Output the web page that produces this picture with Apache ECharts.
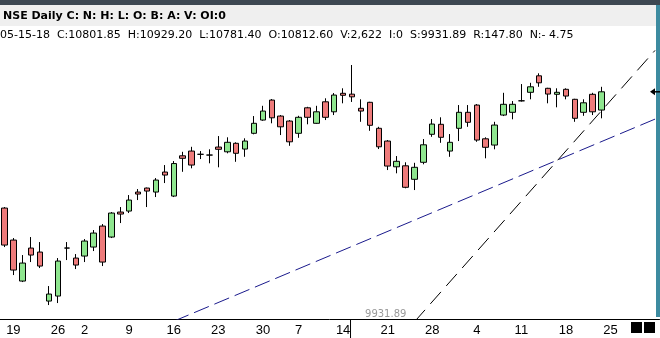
<!DOCTYPE html>
<html><head><meta charset="utf-8">
<script src="https://cdn.jsdelivr.net/npm/echarts@6/dist/echarts.min.js"></script>
<style>html,body{margin:0;padding:0;background:#fff}#c{width:660px;height:338px}</style>
</head><body><div id="c"></div>
<script>
// Trading days (NSE, 2018); trailing days are empty future slots
const dates = ['03-16',
 '03-19','03-20','03-21','03-22','03-23',
 '03-26','03-27','03-28',
 '04-02','04-03','04-04','04-05','04-06',
 '04-09','04-10','04-11','04-12','04-13',
 '04-16','04-17','04-18','04-19','04-20',
 '04-23','04-24','04-25','04-26','04-27',
 '04-30',
 '05-02','05-03','05-04',
 '05-07','05-08','05-09','05-10','05-11',
 '05-14','05-15','05-16','05-17','05-18',
 '05-21','05-22','05-23','05-24','05-25',
 '05-28','05-29','05-30','05-31','06-01',
 '06-04','06-05','06-06','06-07','06-08',
 '06-11','06-12','06-13','06-14','06-15',
 '06-18','06-19','06-20','06-21','06-22',
 '06-25','06-26','06-27','06-28','06-29',
 '07-02'];
const opens  = [10357,10229,10065,10197,10181,9985,10005,10197,10157,10165,10201,10285,10241,10341,10345,10421,10437,10421,10501,10405,10566,10585,10572,10569,10601,10582,10616,10593,10656,10709,10789,10725,10705,10656,10758,10696,10782,10742,10816,10812.6,10756,10780,10676,10625,10522,10526,10472,10540,10652,10692,10585,10676,10740,10769,10634,10609,10729,10740,10786,10820,10886,10836,10812,10832,10792,10740,10812,10749];
const closes = [10209,10109,10137,10169,10125,10013,10145,10197,10129,10225,10257,10141,10337,10333,10389,10413,10425,10469,10489,10535,10556,10529,10572,10569,10592,10620,10576,10625,10696,10745,10718,10682,10622,10720,10720,10742,10720,10809,10808,10801.85,10745,10688,10602,10525,10544,10440,10520,10610,10693,10640,10620,10740,10700,10629,10600,10689,10772,10772,10786,10842,10858,10813,10820,10805,10716,10778,10742,10822];
const lows   = [10201,10089,10061,10141,10117,9969,9977,10149,10113,10141,10185,10125,10237,10297,10337,10389,10361,10401,10457,10401,10502,10516,10553,10536,10520,10576,10542,10562,10652,10706,10696,10649,10606,10638,10692,10694,10709,10729,10776,10781.4,10702,10666,10593,10509,10496,10436,10429,10532,10642,10618,10562,10625,10682,10622,10556,10592,10725,10712,10783,10792,10842,10776,10760,10792,10702,10726,10729,10716];
const highs  = [10361,10237,10169,10241,10221,10045,10157,10221,10173,10233,10269,10293,10341,10361,10409,10433,10439,10477,10529,10545,10582,10602,10585,10592,10645,10640,10620,10636,10725,10766,10793,10729,10709,10726,10762,10766,10796,10817,10836,10929.2,10792,10782,10682,10629,10565,10540,10538,10633,10713,10720,10653,10769,10769,10773,10640,10702,10818,10785,10853,10858,10896,10838,10836,10836,10794,10792,10818,10842];
const tickDates = ['03-19','03-26','04-02','04-09','04-16','04-23','04-30','05-07','05-14','05-21','05-28','06-04','06-11','06-18','06-25'];
const blueTrend  = [['04-16', 9904.4], ['07-02', 10712.8]];
const blackTrend = [['05-24', 9901.8], ['07-02', 10987.6]];
const headerTitle = 'NSE Daily C: N: H: L: O: B: A: V: OI:0';
const headerInfo = '05-15-18  C:10801.85  H:10929.20  L:10781.40  O:10812.60  V:2,622  I:0  S:9931.89  R:147.80  N:- 4.75';
const supportLevel = 9931.89;
const cursorDate = '05-15';
const yMin = 9913.2, yMax = 11009.2;

const candles = opens.map((o, i) => [o, closes[i], lows[i], highs[i]]);
const chart = echarts.init(document.getElementById('c'), null, {renderer: 'canvas'});
chart.setOption({
  animation: false,
  backgroundColor: '#fff',
  grid: {left: -6.5, right: 0.5, top: 45, bottom: 19},
  xAxis: {
    type: 'category', data: dates, boundaryGap: true,
    axisLine: {lineStyle: {color: '#000', width: 1}},
    axisTick: {show: false},
    splitLine: {show: false},
    axisLabel: {
      interval: (i, v) => tickDates.includes(v),
      formatter: v => String(parseInt(v.slice(3), 10)),
      color: '#000', fontSize: 13, fontFamily: 'Liberation Sans', margin: 5, hideOverlap: false
    }
  },
  yAxis: {type: 'value', min: yMin, max: yMax, show: false, splitLine: {show: false}},
  series: [
    {type: 'line', data: blueTrend, symbol: 'none', silent: true, z: 1,
     lineStyle: {color: '#1a1a8c', width: 1, type: [16, 6]}},
    {type: 'line', data: blackTrend, symbol: 'none', silent: true, z: 1,
     lineStyle: {color: '#000', width: 1, type: [16, 8]}},
    {type: 'candlestick', data: candles, barWidth: 6, z: 3,
     itemStyle: {color: '#8fe68f', color0: '#ee7b7b', borderColor: '#000', borderColor0: '#000', borderColorDoji: '#000', borderWidth: 1}}
  ]
});

const last = candles.length - 1;
const arrowPt = chart.convertToPixel({seriesIndex: 2}, [dates[last], closes[last]]);
const supPt = chart.convertToPixel({seriesIndex: 2}, [cursorDate, supportLevel]);
const axisY = chart.convertToPixel({seriesIndex: 2}, [dates[0], yMin])[1];
chart.setOption({
  graphic: [
    {type: 'rect', shape: {x: 0, y: 0, width: 660, height: 5}, style: {fill: '#3d4852'}, z: 10},
    {type: 'rect', shape: {x: 0, y: 5, width: 660, height: 21}, style: {fill: '#efefef'}, z: 10},
    {type: 'text', x: 3, y: 16, style: {text: headerTitle, font: 'bold 11px "DejaVu Sans"', fill: '#000', textVerticalAlign: 'middle'}, z: 11},
    {type: 'text', x: 0, y: 35, style: {text: headerInfo, font: '11px "DejaVu Sans"', fill: '#000', textVerticalAlign: 'middle'}, z: 11},
    {type: 'rect', shape: {x: 656, y: 5, width: 4, height: 312}, style: {fill: '#3d8ba0'}, z: 10},
    {type: 'rect', shape: {x: 631, y: 322, width: 11, height: 11}, style: {fill: '#000'}, z: 10},
    {type: 'rect', shape: {x: 644, y: 322, width: 11, height: 11}, style: {fill: '#000'}, z: 10},
    {type: 'polygon', shape: {points: [[650, arrowPt[1]], [655, arrowPt[1] - 3.5], [655, arrowPt[1] + 3.5]]}, style: {fill: '#000'}, z: 12},
    {type: 'line', shape: {x1: 654, y1: arrowPt[1], x2: 660, y2: arrowPt[1]}, style: {stroke: '#000', lineWidth: 1.5}, z: 12},
    {type: 'text', x: supPt[0] + 13, y: axisY, style: {text: String(supportLevel), font: '10px "DejaVu Sans"', fill: '#999', textVerticalAlign: 'bottom'}, z: 11},
    {type: 'line', shape: {x1: supPt[0] - 1.5, y1: axisY, x2: supPt[0] - 1.5, y2: 338}, style: {stroke: '#000', lineWidth: 1}, z: 11}
  ]
});
</script></body></html>
